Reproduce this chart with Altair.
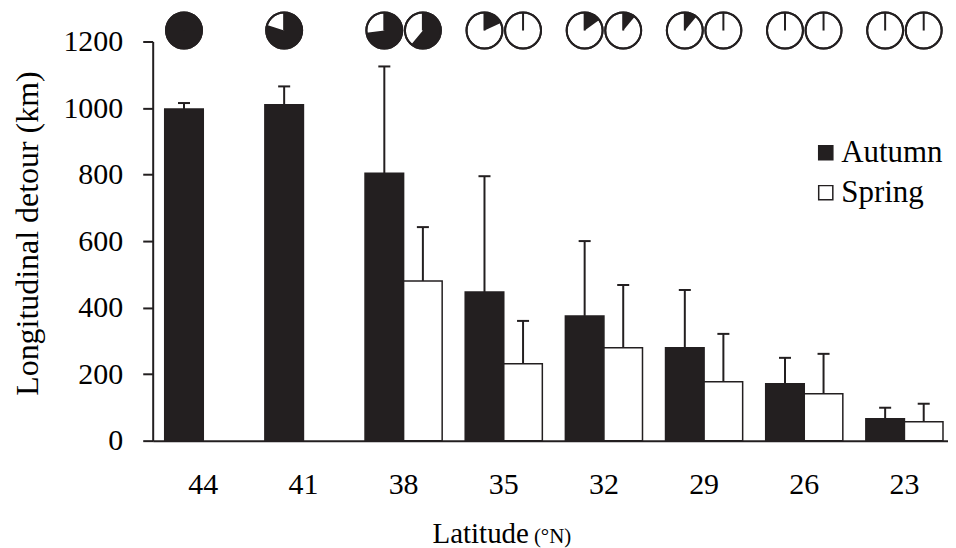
import math
import altair as alt
import pandas as pd

# ---- data ----
latitudes = ["44", "41", "38", "35", "32", "29", "26", "23"]
seasons = ["Autumn", "Spring"]
autumn_mean = [997, 1010, 804, 447, 375, 279, 171, 66]
autumn_sd = [18, 55, 321, 348, 225, 174, 78, 33]
spring_mean = [None, None, 480, 231, 279, 177, 141, 57]
spring_sd = [None, None, 162, 129, 189, 144, 120, 54]
# share of black in the pies above the bars
autumn_share = [1.0, 0.80, 0.73, 0.18, 0.15, 0.11, 0.0, 0.0]
spring_share = [None, None, 0.61, 0.0, 0.11, 0.0, 0.0, 0.0]
y_ticks = [0, 200, 400, 600, 800, 1000, 1200]
y_title = "Longitudinal detour (km)"
x_title = "Latitude"
x_unit = "(°N)"

# ---- layout helpers ----
DARK = "#231f20"
FONT = "Liberation Serif, Times New Roman, serif"
BAR_LEFT = {"Autumn": 0.12, "Spring": 0.505}
BAR_W = 0.385
CAP = 0.06


def wedge_path(f):
    """Unit-circle SVG path for a pie wedge covering fraction f, clockwise from 12 o'clock."""
    if f <= 0:
        return "M0,0"
    if f >= 0.999:
        return "M0,-1A1,1,0,1,1,0,1A1,1,0,1,1,0,-1Z"
    a = 2 * math.pi * f
    large = 1 if f > 0.5 else 0
    return "M0,0L0,-1A1,1,0,%d,1,%.4f,%.4fZ" % (large, math.sin(a), -math.cos(a))


rows = []
for i, lat in enumerate(latitudes):
    for s, means, sds, shares in [
        ("Autumn", autumn_mean, autumn_sd, autumn_share),
        ("Spring", spring_mean, spring_sd, spring_share),
    ]:
        if means[i] is None:
            continue
        x0 = i + BAR_LEFT[s]
        xc = x0 + BAR_W / 2
        rows.append(dict(lat=lat, season=s, mean=means[i], upper=means[i] + sds[i],
                         x0=x0, x1=x0 + BAR_W, xc=xc, cap0=xc - CAP, cap1=xc + CAP,
                         share=shares[i], wedge=wedge_path(shares[i])))
df = pd.DataFrame(rows)

xscale = alt.Scale(domain=[0, 7.94], nice=False, zero=False)
yscale = alt.Scale(domain=[0, 1200], nice=False)
label_list = "[" + ",".join("'%s'" % l for l in latitudes) + "]"
x_axis = alt.Axis(values=[i + 0.5 for i in range(len(latitudes))],
                  labelExpr=label_list + "[floor(datum.value)]",
                  ticks=False, grid=False, title=None,
                  domainColor=DARK, domainWidth=2,
                  labelFont=FONT, labelFontSize=30, labelColor="black",
                  labelPadding=29)
y_axis = alt.Axis(values=y_ticks, format="d", grid=False, title=y_title,
                  domainColor=DARK, domainWidth=2, tickColor=DARK, tickWidth=2, tickSize=10,
                  labelFont=FONT, labelFontSize=30, labelColor="black", labelPadding=20,
                  titleFont=FONT, titleFontSize=32, titleFontWeight="normal",
                  titleColor="black", titlePadding=18, titleY=192)

base = alt.Chart(df)

bars = base.mark_rect(stroke=DARK, strokeWidth=1.5).encode(
    x=alt.X("x0:Q", scale=xscale, axis=x_axis),
    x2="x1:Q",
    y=alt.Y("mean:Q", scale=yscale, axis=y_axis),
    y2=alt.datum(0),
    fill=alt.Fill("season:N",
                  scale=alt.Scale(domain=seasons, range=[DARK, "white"]),
                  legend=alt.Legend(title=None, orient="none", legendX=659, legendY=96,
                                    symbolType="square", symbolSize=200,
                                    symbolStrokeColor=DARK, symbolStrokeWidth=1.5,
                                    labelFont=FONT, labelFontSize=31, labelColor="black",
                                    labelOffset=0, rowPadding=8, padding=0)),
)

err = base.mark_rule(color=DARK, strokeWidth=2).encode(
    x=alt.X("xc:Q", scale=xscale, axis=x_axis),
    y=alt.Y("mean:Q", scale=yscale, axis=y_axis),
    y2="upper:Q",
)
caps = base.mark_rule(color=DARK, strokeWidth=2).encode(
    x=alt.X("cap0:Q", scale=xscale, axis=x_axis),
    x2="cap1:Q",
    y=alt.Y("upper:Q", scale=yscale, axis=y_axis),
)

PIE_Y = -11
PIE_R = 18
PIE_SIZE = (2 * PIE_R) ** 2
pie_bg = base.mark_point(shape="circle", filled=True, fill="white", stroke=DARK,
                         strokeWidth=2, size=PIE_SIZE, opacity=1).encode(
    x=alt.X("xc:Q", scale=xscale, axis=x_axis),
    y=alt.value(PIE_Y),
)
pie_fg = base.mark_point(filled=True, fill=DARK, strokeWidth=0, size=PIE_SIZE, opacity=1).encode(
    x=alt.X("xc:Q", scale=xscale, axis=x_axis),
    y=alt.value(PIE_Y),
    shape=alt.Shape("wedge:N", scale=None, legend=None),
)
pie_line = base.mark_rule(color=DARK, strokeWidth=2).encode(
    x=alt.X("xc:Q", scale=xscale, axis=x_axis),
    y=alt.value(PIE_Y),
    y2=alt.value(PIE_Y - PIE_R),
)
pie_ring = base.mark_point(shape="circle", filled=False, stroke=DARK, strokeWidth=2,
                           size=PIE_SIZE, opacity=1).encode(
    x=alt.X("xc:Q", scale=xscale, axis=x_axis),
    y=alt.value(PIE_Y),
)

title_df = pd.DataFrame({"main": [x_title], "unit": [x_unit]})
t_main = alt.Chart(title_df).mark_text(font=FONT, fontSize=29, align="right",
                                       baseline="alphabetic", color="black").encode(
    x=alt.value(377), y=alt.value(503), text="main:N")
t_unit = alt.Chart(title_df).mark_text(font=FONT, fontSize=21, align="left",
                                       baseline="alphabetic", color="black").encode(
    x=alt.value(382), y=alt.value(503), text="unit:N")

chart = alt.layer(bars, err, caps, pie_bg, pie_fg, pie_line, pie_ring, t_main, t_unit).properties(
    width=797, height=400,
    autosize=alt.AutoSizeParams(type="none"),
    padding={"left": 145, "top": 33, "right": 0, "bottom": 107},
    background="white",
).configure_view(stroke=None)

chart.save("out.html", embed_options={"renderer": "svg", "actions": False})
